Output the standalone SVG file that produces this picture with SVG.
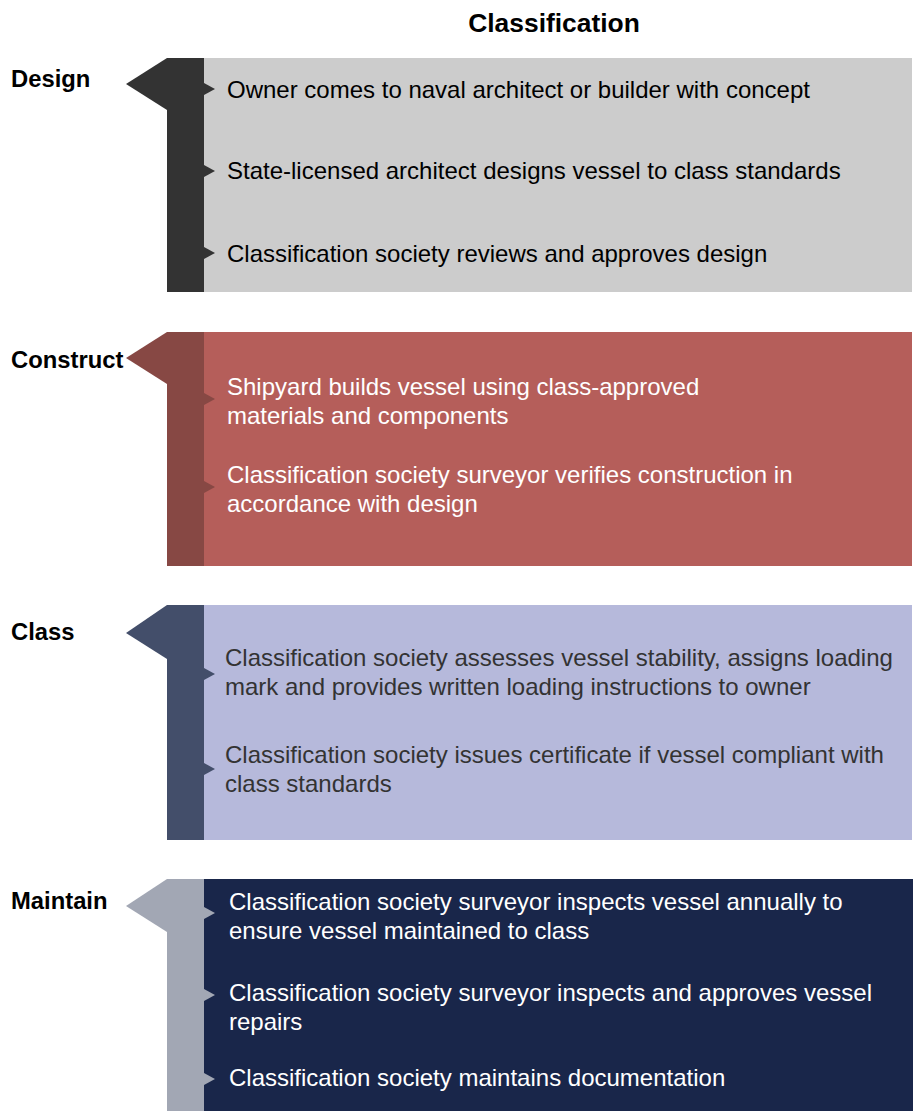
<svg xmlns="http://www.w3.org/2000/svg" width="913" height="1111" viewBox="0 0 913 1111">
<style>
.t{font-family:"Liberation Sans",Arial,sans-serif;font-size:24px}
.h{font-family:"Liberation Sans",Arial,sans-serif;font-size:23.8px;font-weight:bold;fill:#000}
.title{font-family:"Liberation Sans",Arial,sans-serif;font-size:26.4px;font-weight:bold;fill:#000}
</style>
<rect width="913" height="1111" fill="#fff"/>
<text class="title" x="554" y="32" text-anchor="middle">Classification</text>
<g id="design">
<rect x="204" y="58" width="708" height="234" fill="#cccccc"/>
<rect x="167" y="58" width="37" height="234" fill="#333333"/>
<polygon points="167,58 126,84 167,110" fill="#333333"/>
<g fill="#333333"><polygon points="204,83 215,89 204,95"/><polygon points="204,165 215,171 204,177"/><polygon points="204,247 215,253 204,259"/></g>
<text class="h" x="11" y="87">Design</text>
<g class="t" fill="#000"><text x="227" y="98">Owner comes to naval architect or builder with concept</text>
<text x="227" y="179">State-licensed architect designs vessel to class standards</text>
<text x="227" y="262">Classification society reviews and approves design</text></g>
</g>
<g id="construct">
<rect x="204" y="332" width="708" height="234" fill="#b55e5a"/>
<rect x="167" y="332" width="37" height="234" fill="#874844"/>
<polygon points="167,332 126,358 167,384" fill="#874844"/>
<g fill="#874844"><polygon points="204,393 215,399 204,405"/><polygon points="204,481 215,487 204,493"/></g>
<text class="h" x="11" y="368">Construct</text>
<g class="t" fill="#fff"><text x="227" y="395">Shipyard builds vessel using class-approved</text>
<text x="227" y="424">materials and components</text>
<text x="227" y="483">Classification society surveyor verifies construction in</text>
<text x="227" y="512">accordance with design</text></g>
</g>
<g id="class">
<rect x="204" y="605" width="708" height="235" fill="#b6b9db"/>
<rect x="167" y="605" width="37" height="235" fill="#434e6a"/>
<polygon points="167,605 126,633 167,659" fill="#434e6a"/>
<g fill="#434e6a"><polygon points="204,668 215,674 204,680"/><polygon points="204,763 215,769 204,775"/></g>
<text class="h" x="11" y="640">Class</text>
<g class="t" fill="#333"><text x="225" y="666">Classification society assesses vessel stability, assigns loading</text>
<text x="225" y="695">mark and provides written loading instructions to owner</text>
<text x="225" y="763">Classification society issues certificate if vessel compliant with</text>
<text x="225" y="792">class standards</text></g>
</g>
<g id="maintain">
<rect x="204" y="879" width="709" height="232" fill="#19264a"/>
<rect x="167" y="879" width="37" height="232" fill="#a2a7b4"/>
<polygon points="167,879 126,906 167,932" fill="#a2a7b4"/>
<g fill="#a2a7b4"><polygon points="204,907 215,913 204,919"/><polygon points="204,989 215,995 204,1001"/><polygon points="204,1073 215,1079 204,1085"/></g>
<text class="h" x="11" y="909">Maintain</text>
<g class="t" fill="#fff"><text x="229" y="910">Classification society surveyor inspects vessel annually to</text>
<text x="229" y="939">ensure vessel maintained to class</text>
<text x="229" y="1001">Classification society surveyor inspects and approves vessel</text>
<text x="229" y="1030">repairs</text>
<text x="229" y="1086">Classification society maintains documentation</text></g>
</g>
<g id="connectors"></g>
</svg>
